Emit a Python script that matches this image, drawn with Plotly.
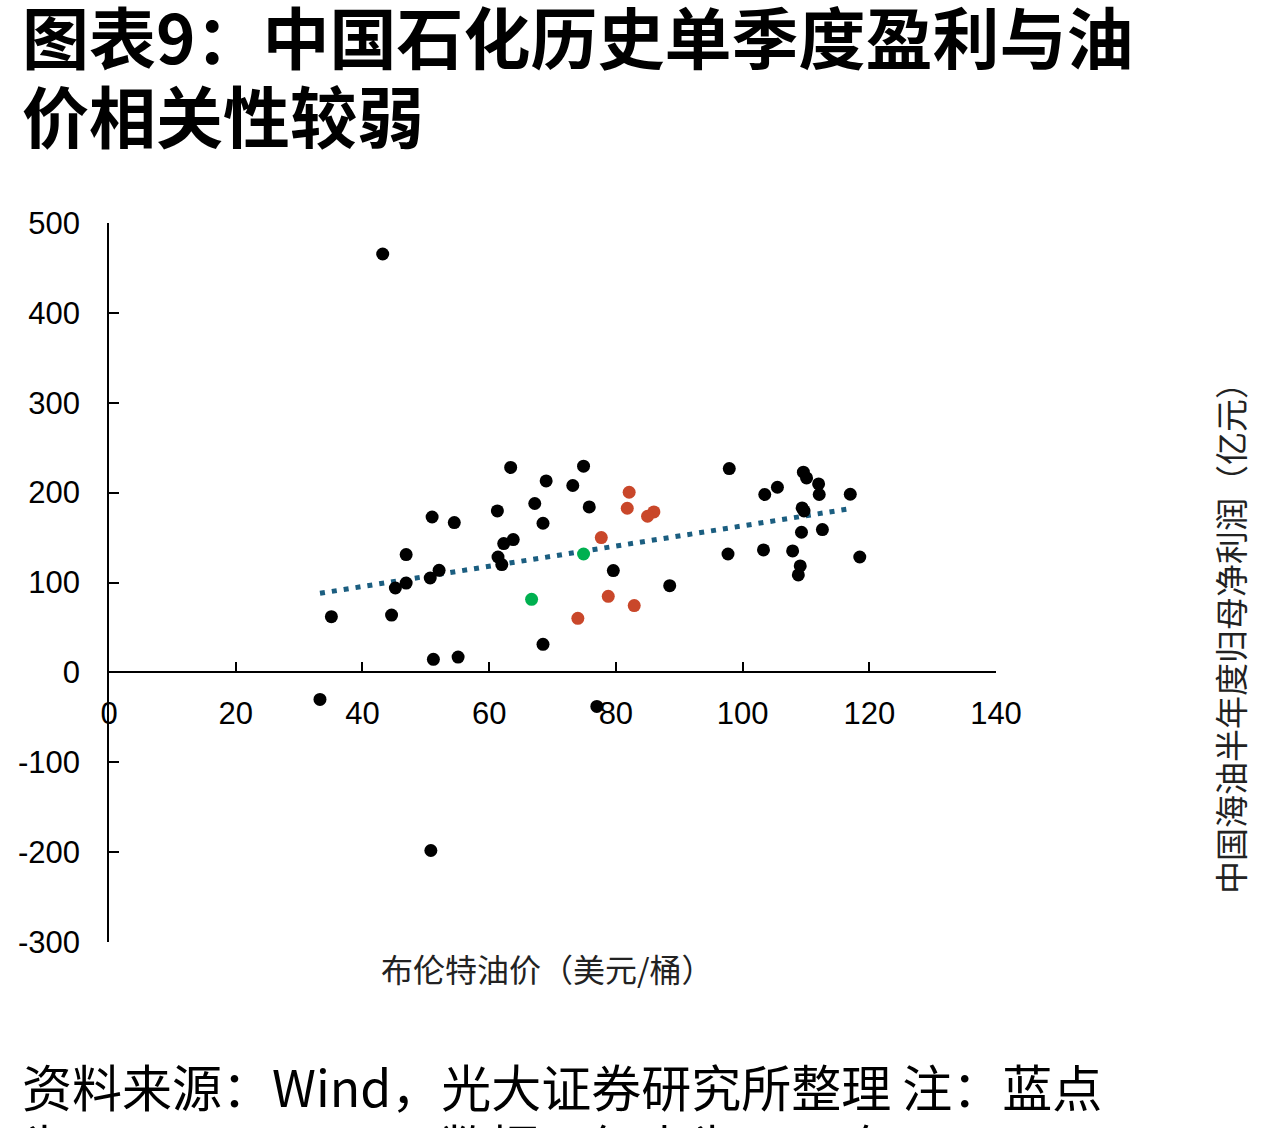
import plotly.graph_objects as go

# ---------------- data ----------------
black_x = [43.2, 33.3, 35.1, 44.6, 45.2, 46.9, 46.9, 51.0, 50.7, 52.1, 51.2, 55.1, 54.5, 50.8,
           61.3, 61.4, 62.0, 62.3, 63.8, 63.4, 67.2, 68.5, 69.0, 68.5, 73.2, 74.9, 75.8, 77.0,
           79.6, 88.5, 97.9, 97.7, 103.3, 103.5, 105.5, 107.9, 108.8, 109.1, 109.3, 109.4,
           109.7, 109.6, 110.1, 112.0, 112.1, 112.6, 117.0, 118.5]
black_y = [465.5, -30.1, 62.0, 63.8, 93.9, 99.4, 131.1, 172.9, 105.0, 113.6, 14.5, 17.0, 166.7, -198.2,
           179.6, 128.4, 119.9, 143.3, 147.8, 228.0, 187.9, 165.9, 213.0, 31.2, 207.9, 229.4, 184.1, -37.9,
           113.3, 96.5, 226.8, 131.7, 136.2, 197.9, 206.0, 135.1, 108.4, 118.4, 155.9, 183.0,
           179.6, 222.7, 216.4, 209.7, 197.9, 158.9, 198.2, 128.4]

red_x = [82.1, 81.8, 86.0, 85.0, 77.7, 78.8, 82.9, 74.0]
red_y = [200.4, 182.6, 178.5, 173.7, 150.0, 84.6, 74.3, 60.1]

green_x = [74.9, 66.7]
green_y = [131.7, 81.3]

trend_x = [33.3, 117.4]
trend_y = [88.0, 182.6]

x_ticks = [0, 20, 40, 60, 80, 100, 120, 140]
x_tick_labels = ["0", "20", "40", "60", "80", "100", "120", "140"]
y_ticks = [-300, -200, -100, 0, 100, 200, 300, 400, 500]
y_tick_labels = ["-300", "-200", "-100", "0", "100", "200", "300", "400", "500"]

title_line1 = "图表9：中国石化历史单季度盈利与油"
title_line2 = "价相关性较弱"
x_title = "布伦特油价（美元/桶）"
y_title = "中国海油半年度归母净利润（亿元）"
source_text = "资料来源：Wind，光大证券研究所整理 注：蓝点"
source_text2 = "为2002H1-2021H2数据，红点为2022年"

# ---------------- figure ----------------
CJK = "Noto Sans CJK SC"
LAT = "Liberation Sans, Arial"

fig = go.Figure()
fig.add_trace(go.Scatter(x=trend_x, y=trend_y, mode="lines",
                         line=dict(color="#1B5E80", width=5, dash="5px,7px"),
                         hoverinfo="skip", showlegend=False))
fig.add_trace(go.Scatter(x=black_x, y=black_y, mode="markers",
                         marker=dict(color="#000000", size=13), showlegend=False))
fig.add_trace(go.Scatter(x=red_x, y=red_y, mode="markers",
                         marker=dict(color="#C9472A", size=13), showlegend=False))
fig.add_trace(go.Scatter(x=green_x, y=green_y, mode="markers",
                         marker=dict(color="#00B050", size=13), showlegend=False))

y_lo, y_hi = -300, 500
fig.update_layout(
    width=1265, height=1128,
    margin=dict(l=109, r=269, t=223, b=186, autoexpand=False),
    paper_bgcolor="white", plot_bgcolor="white",
    font=dict(family=LAT, color="#000000"),
    xaxis=dict(range=[0, 140], tickvals=x_ticks, ticktext=x_tick_labels,
               showgrid=False, zeroline=False, showline=True, linecolor="#000000", linewidth=1.5,
               ticks="inside", ticklen=10, tickwidth=1.5, tickcolor="#000000",
               anchor="free", position=(0 - y_lo) / (y_hi - y_lo),
               tickfont=dict(family=LAT, size=31, color="#000000"), ticklabelstandoff=14),
    yaxis=dict(range=[y_lo, y_hi], tickvals=y_ticks, ticktext=y_tick_labels,
               showgrid=False, zeroline=False, showline=True, linecolor="#000000", linewidth=1.5,
               ticks="inside", ticklen=10, tickwidth=1.5, tickcolor="#000000",
               tickfont=dict(family=LAT, size=31, color="#000000"), ticklabelstandoff=21),
)

# annotations given in pixel positions (x from left, y from top), converted below
annotations = [
    dict(text=title_line1, x=20, y=-16, xanchor="left", yanchor="top",
         font=dict(family=CJK, size=67, color="#000000", weight="bold")),
    dict(text=title_line2, x=20, y=63, xanchor="left", yanchor="top",
         font=dict(family=CJK, size=67, color="#000000", weight="bold")),
    dict(text=x_title, x=547, y=968, xanchor="center", yanchor="middle",
         font=dict(family=CJK, size=32, color="#222222")),
    dict(text=y_title, x=1230, y=630, xanchor="center", yanchor="middle", textangle=-90,
         font=dict(family=CJK, size=33, color="#222222")),
    dict(text=source_text, x=20, y=1047, xanchor="left", yanchor="top",
         font=dict(family=CJK, size=50, color="#000000")),
    dict(text=source_text2, x=20, y=1107, xanchor="left", yanchor="top",
         font=dict(family=CJK, size=50, color="#000000")),
]
pw = 1265 - 109 - 269
ph = 1128 - 223 - 186
for a in annotations:
    a["xref"] = "paper"
    a["yref"] = "paper"
    a["showarrow"] = False
    a["align"] = "left"
    a["x"] = (a["x"] - 109) / pw
    a["y"] = ((1128 - a["y"]) - 186) / ph
fig.update_layout(annotations=annotations)

fig.write_html("out.html")
